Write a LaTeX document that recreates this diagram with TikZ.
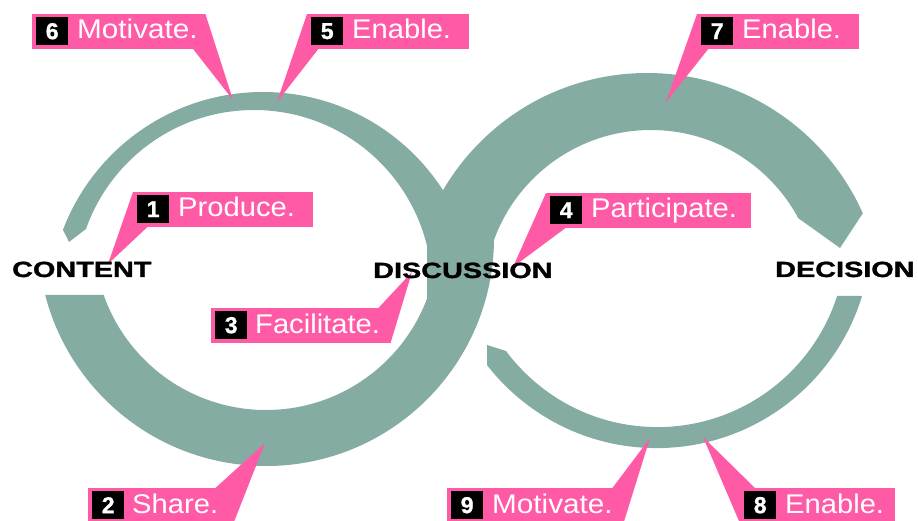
\documentclass[tikz,border=0pt]{standalone}
\usepackage{fontspec}
\setmainfont{Liberation Sans}
\newfontfamily\heavyfont[FakeBold=1.2]{Liberation Sans Bold}
\usepackage{graphicx}
\definecolor{ring}{RGB}{133,172,163}
\definecolor{pinkc}{RGB}{255,90,165}
\begin{document}
\begin{tikzpicture}[x=1pt,y=-1pt,
  box/.style={fill=pinkc, draw=none, minimum height=35pt, inner sep=0pt, anchor=north west},
  numsq/.style={fill=black, text=white, minimum width=32pt, minimum height=28pt, inner sep=0pt, anchor=north west, font=\fontsize{23}{23}\heavyfont},
  lbl/.style={text=white, inner sep=0pt, anchor=base west, font=\fontsize{27}{27}\selectfont},
  stage/.style={text=black, inner sep=0pt, anchor=base west, font=\fontsize{22}{22}\heavyfont},
  ptr/.style={fill=pinkc},
  band/.style={fill=ring, even odd rule}]
\useasboundingbox (0,0) rectangle (918,521);

% ---- ribbon: thin strand, left loop
\begin{scope}
\clip (35,219) -- (63,230) -- (69,242) -- (86,229) -- (254,285) -- (500,285) -- (500,0) -- (0,0) -- (0,200) -- cycle;
\fill[band] (263,306) circle[radius=214] (254,288) circle[radius=178];
\end{scope}
% ---- thin strand, right lower loop
\begin{scope}
\clip (487,521) -- (487,345) -- (506,351) -- (657,296) -- (918,296) -- (918,521) -- cycle;
\fill[band] (656.6,233.4) circle[radius=214.7] (657.4,238.5) circle[radius=188.6];
\end{scope}
% ---- thick strand, left lower loop
\begin{scope}
\clip (0,295) -- (200,295) -- (200,238) -- (918,238) -- (918,521) -- (0,521) -- cycle;
\fill[band] (266,238) circle[radius=228] (266,238) circle[radius=172];
\end{scope}
% ---- thick strand, right upper loop
\begin{scope}
\clip (427,300) -- (427,0) -- (918,0) -- (918,189) -- (863,213) -- (840,248) -- (798,218) -- (651,297) -- cycle;
\fill[band] (647,309) circle[radius=236] (651,297) circle[radius=167];
\end{scope}

% ---- pointer tips
\coordinate (tip1) at (108,264);
\coordinate (tip2) at (265,443);
\coordinate (tip3) at (412,272);
\coordinate (tip4) at (513,267);
\coordinate (tip5) at (277,102);
\coordinate (tip6) at (233,100);
\coordinate (tip7) at (666,102);
\coordinate (tip8) at (703,437);
\coordinate (tip9) at (650,438);

% ---- callout boxes
\node[box, minimum width=173pt] (b6) at (32,14) {};
\node[box, minimum width=162pt] (b5) at (307,14) {};
\node[box, minimum width=162pt] (b7) at (697,14) {};
\node[box, minimum width=180pt] (b1) at (133,192) {};
\node[box, minimum width=205pt] (b4) at (546,193) {};
\node[box, minimum width=179pt] (b3) at (211,308) {};
\node[box, minimum width=145pt] (b2) at (88,488) {};
\node[box, minimum width=176pt] (b9) at (447,488) {};
\node[box, minimum width=155pt] (b8) at (740,488) {};

% ---- pointers
\fill[ptr] (b6.north east) -- (tip6) -- ([xshift=-12pt]b6.south east) -- cycle;
\fill[ptr] (b5.north west) -- (tip5) -- ([xshift=11pt]b5.south west) -- cycle;
\fill[ptr] (b7.north west) -- (tip7) -- ([xshift=11pt]b7.south west) -- cycle;
\fill[ptr] (b1.north west) -- (tip1) -- ([xshift=14pt]b1.south west) -- cycle;
\fill[ptr] (b4.north west) -- (tip4) -- ([xshift=19pt]b4.south west) -- cycle;
\fill[ptr] ([xshift=-12pt]b3.north east) -- (tip3) -- (b3.south east) -- cycle;
\fill[ptr] ([xshift=-18pt]b2.north east) -- (tip2) -- (b2.south east) -- cycle;
\fill[ptr] ([xshift=-11pt]b9.north east) -- (tip9) -- (b9.south east) -- cycle;
\fill[ptr] ([xshift=15pt]b8.north west) -- (tip8) -- (b8.south west) -- cycle;

% ---- numbers
\foreach \b/\n in {b6/6,b5/5,b7/7,b1/1,b4/4,b3/3,b2/2,b9/9,b8/8}{
  \node[numsq] (n\n) at ([shift={(4,3)}]\b.north west) {\n};
}
% ---- callout texts
\node[lbl] (t6) at ([shift={(45,25)}]b6.north west) {\scalebox{1.1}[1]{Motivate.}};
\node[lbl] (t5) at ([shift={(45,25)}]b5.north west) {\scalebox{1.08}[1]{Enable.}};
\node[lbl] (t7) at ([shift={(45,25)}]b7.north west) {\scalebox{1.08}[1]{Enable.}};
\node[lbl] (t1) at ([shift={(45,25)}]b1.north west) {\scalebox{1.08}[1]{Produce.}};
\node[lbl] (t4) at ([shift={(45,25)}]b4.north west) {\scalebox{1.08}[1]{Participate.}};
\node[lbl] (t3) at ([shift={(44,25)}]b3.north west) {\scalebox{1.08}[1]{Facilitate.}};
\node[lbl] (t2) at ([shift={(44,25)}]b2.north west) {\scalebox{1.08}[1]{Share.}};
\node[lbl] (t9) at ([shift={(45,25)}]b9.north west) {\scalebox{1.1}[1]{Motivate.}};
\node[lbl] (t8) at ([shift={(45,25)}]b8.north west) {\scalebox{1.08}[1]{Enable.}};

% ---- stage labels
\node[stage] (content) at (12,277) {\scalebox{1.31}[1]{CONTENT}};
\node[stage] (discussion) at (373,278) {\scalebox{1.31}[1]{DISCUSSION}};
\node[stage] (decision) at (775,277) {\scalebox{1.31}[1]{DECISION}};
\end{tikzpicture}
\end{document}
